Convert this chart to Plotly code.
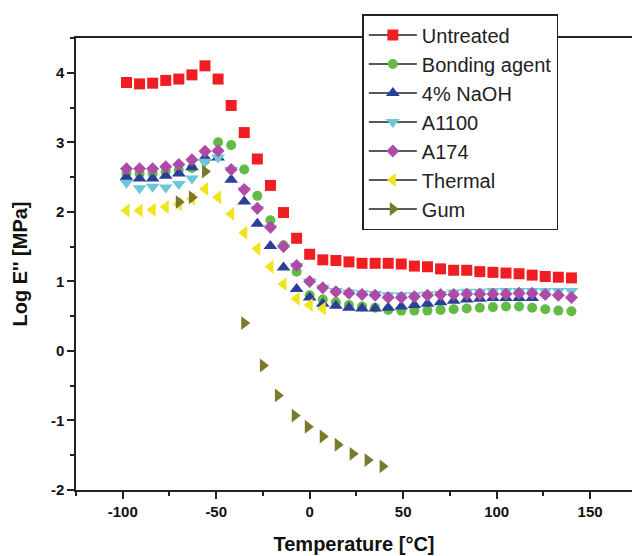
import plotly.graph_objects as go

# ---------------- data ----------------
temp = [-98, -91, -84, -77, -70, -63, -56, -49, -42, -35, -28, -21, -14, -7,
        0, 7, 14, 21, 28, 35, 42, 49, 56, 63, 70, 77, 84, 91, 98, 105, 112,
        119, 126, 133, 140]

untreated = [3.86, 3.84, 3.85, 3.89, 3.91, 3.97, 4.10, 3.91, 3.53, 3.14, 2.76,
             2.38, 1.99, 1.62, 1.39, 1.31, 1.30, 1.28, 1.26, 1.26, 1.26, 1.25,
             1.22, 1.21, 1.18, 1.16, 1.16, 1.14, 1.13, 1.12, 1.11, 1.09, 1.07,
             1.06, 1.05]

bonding = [2.55, 2.55, 2.55, 2.58, 2.60, 2.63, 2.74, 3.00, 2.96, 2.61, 2.23,
           1.88, 1.52, 1.14, 0.80, 0.74, 0.70, 0.66, 0.64, 0.62, 0.59, 0.58,
           0.58, 0.58, 0.59, 0.60, 0.61, 0.62, 0.63, 0.64, 0.64, 0.62, 0.60,
           0.58, 0.57]

naoh = [2.50, 2.48, 2.48, 2.52, 2.55, 2.64, 2.78, 2.78, 2.46, 2.15, 1.83,
        1.51, 1.20, 0.89, 0.77, 0.68, 0.65, 0.62, 0.61, 0.61, 0.62, 0.64,
        0.66, 0.68, 0.70, 0.72, 0.74, 0.75, 0.76, 0.76, 0.76, 0.76]

a1100 = [2.42, 2.34, 2.36, 2.35, 2.40, 2.48, 2.72, 2.78, 2.60, 2.31, 2.04,
         1.77, 1.49, 1.22, 1.00, 0.91, 0.86, 0.84, 0.83, 0.82, 0.80, 0.80,
         0.80, 0.81, 0.82, 0.84, 0.85, 0.85, 0.86, 0.86, 0.86, 0.86, 0.86,
         0.86, 0.86]

a174 = [2.62, 2.62, 2.62, 2.65, 2.68, 2.75, 2.87, 2.88, 2.61, 2.32, 2.05,
        1.78, 1.50, 1.23, 1.00, 0.91, 0.85, 0.83, 0.81, 0.80, 0.77, 0.77,
        0.78, 0.80, 0.81, 0.81, 0.82, 0.82, 0.82, 0.82, 0.83, 0.83, 0.81,
        0.80, 0.77]

thermal = [2.02, 2.02, 2.03, 2.07, 2.11, 2.19, 2.33, 2.21, 1.97, 1.70, 1.47,
           1.21, 0.96, 0.75, 0.66, 0.61]

gum_temp = [-70, -63, -56, -35, -25, -17, -8, -1, 7, 15, 23, 31, 39]
gum = [2.14, 2.21, 2.58, 0.40, -0.21, -0.64, -0.93, -1.09, -1.23, -1.35,
       -1.48, -1.57, -1.66]

x_ticks = [-100, -50, 0, 50, 100, 150]
y_ticks = [-2, -1, 0, 1, 2, 3, 4]

series = [
    ("Untreated", temp, untreated, "square", "#f01e23", 11),
    ("Bonding agent", temp, bonding, "circle", "#62bb46", 10),
    ("4% NaOH", temp, naoh, "triangle-up", "#2b3f98", 12),
    ("A1100", temp, a1100, "triangle-down", "#6cc7d8", 12),
    ("A174", temp, a174, "diamond", "#b04aa8", 10),
    ("Thermal", temp, thermal, "triangle-left", "#f2e41c", 12),
    ("Gum", gum_temp, gum, "triangle-right", "#7b7a2a", 12),
]

FONT = "Liberation Sans, Arial, sans-serif"

fig = go.Figure()

# data traces (markers only), drawn in order
for name, xs, ys, sym, col, sz in series:
    n = min(len(xs), len(ys))
    fig.add_trace(go.Scatter(
        x=xs[:n], y=ys[:n], mode="markers", name=name, showlegend=False,
        marker=dict(symbol=sym, color=col, size=sz, line=dict(width=0)),
    ))

# legend entries (line + marker symbol)
for name, xs, ys, sym, col, sz in series:
    fig.add_trace(go.Scatter(
        x=[None], y=[None], mode="lines+markers", name=name, showlegend=True,
        line=dict(color="#222222", width=1.5),
        marker=dict(symbol=sym, color=col, size=sz, line=dict(width=0)),
    ))

fig.update_layout(
    width=632, height=556,
    margin=dict(l=76, r=0, t=38, b=66, autoexpand=False),
    paper_bgcolor="white", plot_bgcolor="white",
    font=dict(family=FONT, color="#111111"),
    legend=dict(
        x=0.515, y=1 + 24 / 452, xanchor="left", yanchor="top",
        bgcolor="white", bordercolor="#222222", borderwidth=1.5,
        font=dict(size=20, family=FONT, color="#222222"),
        itemwidth=48, tracegroupgap=0,
    ),
    xaxis=dict(
        range=[-125, 172.4], tickvals=x_ticks, ticktext=[str(v) for v in x_ticks],
        showgrid=False, zeroline=False, showline=True, linecolor="#222222",
        linewidth=1.5, mirror=True, ticks="outside", ticklen=7, tickwidth=1.5,
        tickcolor="#222222", automargin=False,
        minor=dict(dtick=25, tick0=-125, ticks="outside", ticklen=4,
                   tickwidth=1.5, tickcolor="#222222", showgrid=False),
        tickfont=dict(size=15, family=FONT, color="#111111", weight="bold"),
        title=dict(text="<b>Temperature [°C]</b>", font=dict(size=20), standoff=18),
    ),
    yaxis=dict(
        range=[-2, 4.5], tickvals=y_ticks, ticktext=[str(v) for v in y_ticks],
        showgrid=False, zeroline=False, showline=True, linecolor="#222222",
        linewidth=1.5, mirror=False, ticks="outside", ticklen=7, tickwidth=1.5,
        tickcolor="#222222", automargin=False,
        minor=dict(dtick=0.5, tick0=-2, ticks="outside", ticklen=4,
                   tickwidth=1.5, tickcolor="#222222", showgrid=False),
        tickfont=dict(size=15, family=FONT, color="#111111", weight="bold"),
        title=dict(text="<b>Log E'' [MPa]</b>", font=dict(size=20), standoff=18),
    ),
)

fig.write_html(
    "out.html",
    config={"displayModeBar": False},
    post_script="document.body.style.margin='0';document.body.style.padding='0';",
)
